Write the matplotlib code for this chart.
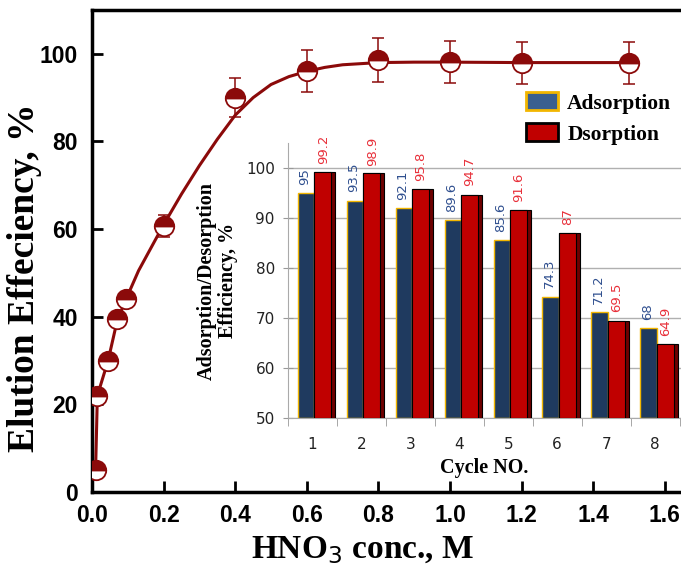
import numpy as np
import matplotlib
matplotlib.use("Agg")
import matplotlib.pyplot as plt
from matplotlib.patches import Patch

# main plot: elution efficiency vs HNO3 concentration
conc = [0.01, 0.015, 0.045, 0.07, 0.095, 0.2, 0.4, 0.6, 0.8, 1.0, 1.2, 1.5]
elution = [5, 22, 30, 39.5, 44, 60.7, 90, 96, 98.5, 98.2, 98, 98]
elution_err = [1.5, 1.5, 1.5, 1.5, 1.5, 2.5, 4.5, 4.8, 5, 4.8, 4.8, 4.8]

# fitted curve
fit_x = [0.01, 0.015, 0.03, 0.045, 0.07, 0.095, 0.13, 0.16, 0.2, 0.25, 0.3, 0.35,
         0.4, 0.45, 0.5, 0.55, 0.6, 0.65, 0.7, 0.8, 0.9, 1.0, 1.2, 1.5]
fit_y = [5, 22, 26, 30, 39, 44, 50.5, 55, 61, 68, 74.5, 80.5,
         86, 90, 93, 94.8, 96, 96.9, 97.5, 98, 98.1, 98.1, 98, 98]

# inset: reuse cycles
cycles = [1, 2, 3, 4, 5, 6, 7, 8]
adsorption = [95, 93.5, 92.1, 89.6, 85.6, 74.3, 71.2, 68]
desorption = [99.2, 98.9, 95.8, 94.7, 91.6, 87, 69.5, 64.9]

dark_red = "#8b0a0a"

fig = plt.figure(figsize=(6.81, 5.73), dpi=100)
ax = fig.add_axes([92/681, 81/573, 589/681, 482/573])

ax.plot(fit_x, fit_y, color=dark_red, lw=2.2, zorder=2)
ax.errorbar(conc, elution, yerr=elution_err, fmt="none", ecolor=dark_red,
            elinewidth=1.1, capsize=4.5, capthick=1.1, zorder=3)
ax.plot(conc, elution, "o", ms=14, fillstyle="top", color=dark_red,
        markerfacecoloralt="white", markeredgecolor=dark_red, mew=1.3, zorder=4)

ax.set_xlim(0, 1.645)
ax.set_ylim(0, 110)
ax.set_xticks(np.arange(0, 1.61, 0.2))
ax.set_xticklabels(["%.1f" % v for v in np.arange(0, 1.61, 0.2)])
ax.set_yticks([0, 20, 40, 60, 80, 100])
for lab in ax.get_xticklabels() + ax.get_yticklabels():
    lab.set_fontfamily("Liberation Sans")
    lab.set_fontweight("bold")
    lab.set_fontsize(16.5)
ax.tick_params(direction="in", length=8, width=2)
ax.tick_params(axis="y", pad=10)
ax.tick_params(axis="x", pad=9)
ax.spines["right"].set_visible(False)
for s in ["left", "bottom", "top"]:
    ax.spines[s].set_linewidth(2.5)
ax.set_xlabel("HNO$_3$ conc., M", fontsize=24, fontweight="bold",
              family="Liberation Serif")
ax.set_ylabel("Elution Effeciency, %", fontsize=27, fontweight="bold",
              family="Liberation Serif")
ax.xaxis.set_label_coords((363 - 92) / 589, -0.088)
ax.yaxis.set_label_coords((42 - 92) / 589, (492 - 278) / 482)

# legend for the inset
handles = [Patch(facecolor="#3a5f8f", edgecolor="#f2b600", lw=2, label="Adsorption"),
           Patch(facecolor="#c00000", edgecolor="black", lw=2, label="Dsorption")]
fig.legend(handles=handles, loc="upper left", bbox_to_anchor=(507/681, 1 - 73/573),
           frameon=False, handlelength=1.45, handleheight=0.9, handletextpad=0.45,
           labelspacing=0.45, prop={"family": "Liberation Serif", "weight": "bold", "size": 15.5})

# inset bar chart
ins = fig.add_axes([288/681, 155/573, 393/681, 275/573])
x = np.array(cycles, dtype=float)
ins.bar(x - 0.3, np.array(adsorption) - 50, width=0.33, bottom=50, align="edge",
        color="#1f3a5f", edgecolor="#f2b600", lw=1, zorder=3)
ins.bar(x + 0.03, np.array(desorption) - 50, width=0.44, bottom=50, align="edge",
        color="#6e0000", edgecolor="black", lw=0.8, zorder=3)
ins.bar(x + 0.03, np.array(desorption) - 50, width=0.35, bottom=50, align="edge",
        color="#c00000", edgecolor="black", lw=0.8, zorder=4)
for xi, a, d in zip(x, adsorption, desorption):
    ins.text(xi - 0.16, a + 1.6, "%g" % a, rotation=90, ha="center", va="bottom",
             fontsize=9.5, color="#2f4f8f", family="DejaVu Sans", zorder=5)
    ins.text(xi + 0.22, d + 1.6, "%g" % d, rotation=90, ha="center", va="bottom",
             fontsize=9.5, color="#e8303a", family="DejaVu Sans", zorder=5)

ins.set_xlim(0.53, 8.53)
ins.set_ylim(50, 105)
ins.set_yticks([50, 60, 70, 80, 90, 100])
ins.set_xticks(cycles)
ins.set_xticks(np.arange(0.5, 8.6, 1), minor=True)
ins.tick_params(axis="x", which="major", length=0, pad=14, labelsize=11, labelcolor="#222222")
ins.tick_params(axis="x", which="minor", length=6, color="#999999")
ins.tick_params(axis="y", direction="inout", length=7, color="#999999", pad=6,
                labelsize=11, labelcolor="#222222")
for lab in ins.get_xticklabels() + ins.get_yticklabels():
    lab.set_fontfamily("DejaVu Sans")
ins.grid(axis="y", color="#b0b0b0", lw=1, zorder=0)
for s in ["top", "right"]:
    ins.spines[s].set_visible(False)
for s in ["left", "bottom"]:
    ins.spines[s].set_color("#aaaaaa")
ins.set_facecolor("none")
ins.set_xlabel("Cycle NO.", fontsize=14.5, fontweight="bold", family="Liberation Serif", labelpad=4)
ins.set_ylabel("Adsorption/Desorption\nEfficiency, %", fontsize=14.5, fontweight="bold",
               family="Liberation Serif", labelpad=6, linespacing=1.05)

fig.savefig("out.png", dpi=100)
